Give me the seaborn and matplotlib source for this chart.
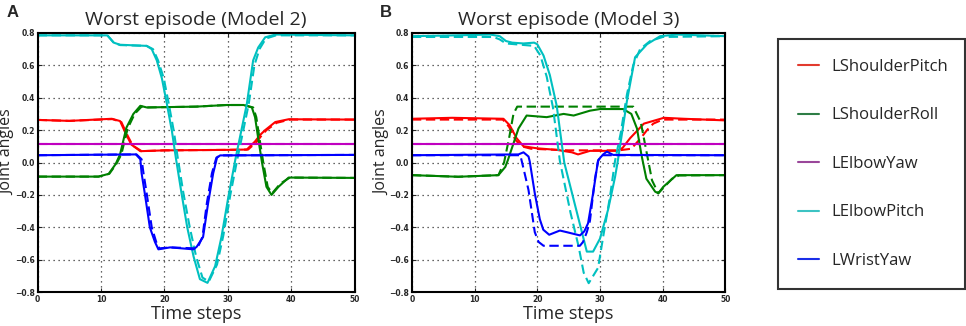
import matplotlib
matplotlib.use("Agg")
import matplotlib.pyplot as plt
from matplotlib.lines import Line2D
import pandas as pd
import seaborn as sns

JOINTS = ["LShoulderPitch", "LShoulderRoll", "LElbowYaw", "LElbowPitch", "LWristYaw"]
LINE_COLORS = ["#ff0000", "#008000", "#c000c0", "#00c0c0", "#0000ff"]
LEGEND_COLORS = ["#e23a2e", "#2e7d46", "#9a479a", "#3cc3c3", "#1a2ee8"]
TITLES = ["Worst episode (Model 2)", "Worst episode (Model 3)"]
PANEL_LABELS = ["A", "B"]
X_TICKS = [0, 10, 20, 30, 40, 50]
Y_TICKS = [-0.8, -0.6, -0.4, -0.2, 0.0, 0.2, 0.4, 0.6, 0.8]

# ---------------- Panel A (Model 2) ----------------
A_SP_PRED_T = [0, 5, 11.7, 13, 14, 14.8, 16.2, 20, 30, 33, 34.3, 35.1, 35.9, 37.5, 39.6, 50]
A_SP_PRED_V = [0.263, 0.257, 0.27, 0.256, 0.17, 0.11, 0.07, 0.075, 0.078, 0.08, 0.13, 0.17, 0.20, 0.25, 0.267, 0.265]
A_SP_TRUE_T = [0, 5, 11.8, 13.2, 14.2, 15.0, 16.4, 20, 30, 33.2, 34.5, 35.3, 36.1, 37.7, 39.8, 50]
A_SP_TRUE_V = [0.263, 0.257, 0.268, 0.25, 0.165, 0.105, 0.07, 0.075, 0.078, 0.08, 0.125, 0.165, 0.20, 0.245, 0.265, 0.265]

A_SR_PRED_T = [0, 9.6, 11.2, 12.3, 13, 14, 15.1, 16.2, 17.2, 25, 29.8, 32.5, 33.8, 34.3, 34.8, 35.4, 36.1, 36.9, 38, 39.6, 50]
A_SR_PRED_V = [-0.087, -0.087, -0.07, -0.01, 0.05, 0.215, 0.30, 0.35, 0.34, 0.345, 0.355, 0.355, 0.34, 0.28, 0.15, 0.0, -0.15, -0.2, -0.15, -0.093, -0.095]
A_SR_TRUE_T = [0, 9.6, 11.3, 12.4, 13.2, 14.2, 15.3, 16.4, 17.4, 25, 29.8, 32.5, 34.0, 34.5, 35.0, 35.6, 36.3, 37.0, 38.3, 39.8, 50]
A_SR_TRUE_V = [-0.087, -0.087, -0.07, -0.01, 0.05, 0.21, 0.30, 0.345, 0.34, 0.345, 0.355, 0.355, 0.34, 0.28, 0.15, 0.0, -0.15, -0.19, -0.13, -0.093, -0.095]

A_EY_PRED_T = [0, 50]
A_EY_PRED_V = [0.115, 0.115]
A_EY_TRUE_T = [0, 50]
A_EY_TRUE_V = [0.115, 0.115]

A_EP_PRED_T = [0, 11, 12, 13, 17.2, 18, 18.8, 19.6, 20.4, 21.2, 21.8, 22.7, 23.6, 24.6, 25.6, 26.8, 28, 29, 30.1, 31.2, 33, 34, 34.8, 35.9, 37.5, 50]
A_EP_PRED_V = [0.785, 0.785, 0.74, 0.727, 0.72, 0.70, 0.63, 0.52, 0.36, 0.19, 0.03, -0.19, -0.40, -0.58, -0.72, -0.743, -0.64, -0.46, -0.21, 0.02, 0.36, 0.63, 0.71, 0.773, 0.79, 0.785]
A_EP_TRUE_T = [0, 11, 12, 13, 17.2, 18.2, 19.0, 19.9, 20.7, 21.5, 22.1, 23.0, 24.0, 25.0, 26.0, 27.0, 28.3, 29.3, 30.4, 31.5, 33.3, 34.2, 35.0, 36.0, 37.6, 50]
A_EP_TRUE_V = [0.785, 0.785, 0.74, 0.725, 0.72, 0.70, 0.63, 0.52, 0.36, 0.19, 0.03, -0.19, -0.40, -0.58, -0.71, -0.735, -0.63, -0.45, -0.20, 0.02, 0.36, 0.60, 0.70, 0.765, 0.785, 0.785]

A_WY_PRED_T = [0, 15.5, 16.2, 16.4, 16.9, 17.7, 18.5, 19.05, 20.9, 24.6, 25.1, 26.1, 26.9, 27.7, 28.3, 28.8, 50]
A_WY_PRED_V = [0.045, 0.05, 0.02, -0.066, -0.19, -0.40, -0.49, -0.536, -0.524, -0.536, -0.52, -0.46, -0.25, -0.066, 0.03, 0.044, 0.047]
A_WY_TRUE_T = [0, 15.6, 16.4, 16.7, 17.2, 18.0, 18.7, 19.2, 21, 24.8, 25.3, 26.0, 26.7, 27.5, 28.2, 28.8, 50]
A_WY_TRUE_V = [0.045, 0.05, 0.02, -0.066, -0.19, -0.40, -0.49, -0.53, -0.524, -0.53, -0.52, -0.46, -0.25, -0.066, 0.03, 0.044, 0.047]

# ---------------- Panel B (Model 3) ----------------
B_SP_PRED_T = [0, 6.4, 14.6, 15.6, 16.7, 17.8, 19.9, 23.1, 25.5, 26.5, 28.4, 32.7, 33.6, 34.8, 37, 40.2, 43.4, 50]
B_SP_PRED_V = [0.27, 0.276, 0.27, 0.23, 0.15, 0.10, 0.088, 0.078, 0.063, 0.05, 0.072, 0.072, 0.09, 0.15, 0.24, 0.276, 0.27, 0.26]
B_SP_TRUE_T = [0, 14.5, 15.5, 16.5, 17.5, 19, 25, 33, 35, 36.5, 37.5, 38.5, 40, 50]
B_SP_TRUE_V = [0.265, 0.265, 0.22, 0.14, 0.10, 0.085, 0.075, 0.075, 0.085, 0.15, 0.20, 0.24, 0.265, 0.265]

B_SR_PRED_T = [0, 7.4, 13.8, 14.9, 15.3, 17.0, 18.3, 21.5, 24.2, 25.8, 28.4, 30, 33.7, 35, 35.9, 36.6, 37.4, 38.8, 39.3, 40.1, 42.2, 50]
B_SR_PRED_V = [-0.078, -0.088, -0.078, -0.027, 0.014, 0.21, 0.29, 0.28, 0.30, 0.29, 0.32, 0.33, 0.33, 0.30, 0.21, 0.05, -0.1, -0.18, -0.19, -0.15, -0.078, -0.078]
B_SR_TRUE_T = [0, 7.4, 13.8, 14.7, 15.5, 16.2, 16.8, 35.3, 36.5, 37.5, 38.3, 39.3, 41.5, 42.6, 50]
B_SR_TRUE_V = [-0.078, -0.088, -0.078, 0.0, 0.15, 0.30, 0.345, 0.345, 0.25, 0.05, -0.11, -0.19, -0.10, -0.08, -0.078]

B_EY_PRED_T = [0, 50]
B_EY_PRED_V = [0.115, 0.115]
B_EY_TRUE_T = [0, 50]
B_EY_TRUE_V = [0.115, 0.115]

B_EP_PRED_T = [0, 7, 12.5, 14, 15, 16, 17.8, 19.5, 20, 21, 22, 23.1, 24.3, 27.9, 28.9, 30, 31.3, 32.4, 32.8, 34.3, 35.6, 37.5, 39.6, 42.3, 50]
B_EP_PRED_V = [0.78, 0.785, 0.79, 0.78, 0.75, 0.74, 0.735, 0.74, 0.73, 0.66, 0.54, 0.35, 0.0, -0.55, -0.55, -0.47, -0.29, -0.09, 0.0, 0.38, 0.65, 0.73, 0.78, 0.79, 0.78]
B_EP_TRUE_T = [0, 13, 14, 15, 18, 19.5, 20.5, 21.5, 22.5, 23.6, 25.3, 26.6, 27.4, 28.2, 29.7, 30.5, 31.6, 32.4, 33.3, 34.3, 35.3, 36.4, 38, 40, 50]
B_EP_TRUE_V = [0.775, 0.775, 0.76, 0.735, 0.725, 0.72, 0.66, 0.53, 0.34, 0.01, -0.31, -0.52, -0.68, -0.745, -0.65, -0.46, -0.21, 0.01, 0.18, 0.42, 0.60, 0.70, 0.75, 0.775, 0.78]

B_WY_PRED_T = [0, 17.0, 17.8, 18.6, 18.8, 19.6, 20.4, 20.96, 21.9, 23.6, 24.7, 26.8, 27.5, 28.1, 28.9, 29.7, 30.5, 31.1, 32.1, 50]
B_WY_PRED_V = [0.045, 0.05, 0.063, 0.037, 0.006, -0.19, -0.35, -0.415, -0.446, -0.42, -0.43, -0.45, -0.425, -0.375, -0.19, 0.014, 0.05, 0.067, 0.047, 0.045]
B_WY_TRUE_T = [0, 17.3, 18.0, 18.6, 19.6, 20.2, 21.0, 26.8, 27.3, 27.9, 28.4, 29.2, 29.7, 30.3, 50]
B_WY_TRUE_V = [0.045, 0.045, -0.07, -0.17, -0.43, -0.49, -0.514, -0.514, -0.49, -0.43, -0.36, -0.10, 0.01, 0.045, 0.045]

PANELS = [
    [(A_SP_PRED_T, A_SP_PRED_V, A_SP_TRUE_T, A_SP_TRUE_V),
     (A_SR_PRED_T, A_SR_PRED_V, A_SR_TRUE_T, A_SR_TRUE_V),
     (A_EY_PRED_T, A_EY_PRED_V, A_EY_TRUE_T, A_EY_TRUE_V),
     (A_EP_PRED_T, A_EP_PRED_V, A_EP_TRUE_T, A_EP_TRUE_V),
     (A_WY_PRED_T, A_WY_PRED_V, A_WY_TRUE_T, A_WY_TRUE_V)],
    [(B_SP_PRED_T, B_SP_PRED_V, B_SP_TRUE_T, B_SP_TRUE_V),
     (B_SR_PRED_T, B_SR_PRED_V, B_SR_TRUE_T, B_SR_TRUE_V),
     (B_EY_PRED_T, B_EY_PRED_V, B_EY_TRUE_T, B_EY_TRUE_V),
     (B_EP_PRED_T, B_EP_PRED_V, B_EP_TRUE_T, B_EP_TRUE_V),
     (B_WY_PRED_T, B_WY_PRED_V, B_WY_TRUE_T, B_WY_TRUE_V)],
]


def build_frame(series):
    rows = []
    for joint, (pt, pv, tt, tv) in zip(JOINTS, series):
        for t, v in zip(pt, pv):
            rows.append({"t": t, "v": v, "joint": joint, "kind": "pred"})
        for t, v in zip(tt, tv):
            rows.append({"t": t, "v": v, "joint": joint, "kind": "true"})
    return pd.DataFrame(rows)


sns.set_theme(style="ticks")
plt.rcParams["font.family"] = ["Open Sans", "DejaVu Sans"]
plt.rcParams["axes.unicode_minus"] = True

fig = plt.figure(figsize=(9.66, 3.26), dpi=100)
axes_rects = [
    [0.039, 0.104, 0.328, 0.795],
    [0.4264, 0.104, 0.3245, 0.795],
]
letter_x = [0.007, 0.393]
ylabel_x = [-0.07, -0.068]

for i, series in enumerate(PANELS):
    ax = fig.add_axes(axes_rects[i])
    df = build_frame(series)
    sns.lineplot(data=df, x="t", y="v", hue="joint", style="kind",
                 hue_order=JOINTS, palette=LINE_COLORS,
                 style_order=["pred", "true"],
                 dashes={"pred": "", "true": (4.5, 2.2)},
                 estimator=None, sort=True, lw=1.5, legend=False, ax=ax)
    ax.set_xlim(0, 50)
    ax.set_ylim(-0.8, 0.8)
    ax.set_xticks(X_TICKS)
    ax.set_yticks(Y_TICKS)
    ax.grid(True, ls=(0, (1, 3)), color="#333333", lw=0.9)
    for s in ax.spines.values():
        s.set_visible(True)
        s.set_color("black")
        s.set_linewidth(1.5)
    ax.tick_params(direction="in", length=3, width=0.8, labelsize=5.5, pad=2,
                   top=True, right=True)
    for lbl in ax.get_xticklabels() + ax.get_yticklabels():
        lbl.set_fontweight("bold")
        lbl.set_family(["DejaVu Sans"])
    ax.set_xlabel("Time steps", fontsize=13, labelpad=1)
    ax.set_ylabel("Joint angles", fontsize=11.5)
    ax.yaxis.set_label_coords(ylabel_x[i], 0.54)
    ax.set_title(TITLES[i], fontsize=14, pad=6)
    fig.text(letter_x[i], 0.962, PANEL_LABELS[i], fontsize=12, fontweight="bold",
             family=["Liberation Sans"], va="center", ha="left")

handles = [Line2D([], [], color=c, lw=1.5) for c in LEGEND_COLORS]
leg = fig.legend(handles, JOINTS, loc="center",
                 bbox_to_anchor=(0.805, 0.107, 0.1935, 0.78), mode="expand",
                 frameon=True, fancybox=False, edgecolor="black",
                 fontsize=12, labelspacing=1.95, borderpad=1.2,
                 handlelength=1.3, handletextpad=0.7, borderaxespad=0)
leg.get_frame().set_linewidth(1.5)

fig.savefig("out.png", dpi=100)
